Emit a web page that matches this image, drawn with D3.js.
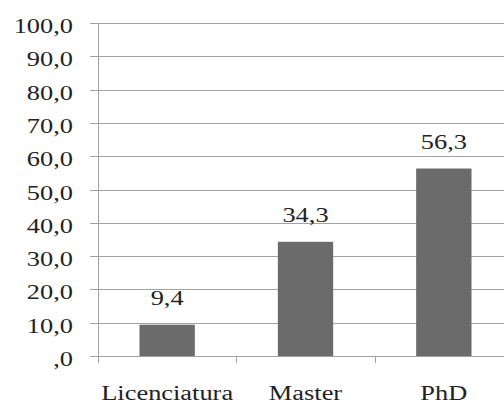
<!DOCTYPE html>
<html>
<head>
<meta charset="utf-8">
<script src="https://cdn.jsdelivr.net/npm/d3@7"></script>
<style>
  html, body { margin: 0; padding: 0; background: #fff; }
  svg { display: block; }
  text { font-family: "Liberation Serif", "Times New Roman", serif; fill: #222; }
</style>
</head>
<body>
<svg id="chart" width="504" height="405"></svg>
<script>
// Share of respondents by degree level (%)
const categories = ["Licenciatura", "Master", "PhD"];
const values = [9.4, 34.3, 56.3];
const yTicks = [0, 10, 20, 30, 40, 50, 60, 70, 80, 90, 100];

const svg = d3.select("#chart");
const W = 504, H = 405;
const plotLeft = 98, plotRight = 513, plotTop = 23, plotBottom = 356;
const stretch = 1.32;   // wide-set lettering
const fmt = v => {
  const s = v.toFixed(1).replace(".", ",");
  return s.startsWith("0,") ? s.slice(1) : s;
};

const x = d3.scaleBand().domain(categories).range([plotLeft, plotRight])
  .paddingInner(0.6).paddingOuter(0.3);
const y = d3.scaleLinear().domain([0, 100]).range([plotBottom, plotTop]);

// horizontal gridlines with short ticks left of the axis
svg.append("g").selectAll("line").data(yTicks).join("line")
  .attr("x1", plotLeft - 8).attr("x2", W)
  .attr("y1", d => Math.round(y(d)) + 0.5).attr("y2", d => Math.round(y(d)) + 0.5)
  .attr("stroke", "#a3a3a3").attr("stroke-width", 1);

// vertical axis line
svg.append("line")
  .attr("x1", plotLeft + 0.5).attr("x2", plotLeft + 0.5)
  .attr("y1", plotTop).attr("y2", plotBottom + 7)
  .attr("stroke", "#a3a3a3");

// category separators below the baseline
const seps = categories.slice(1).map(c => x(c) - x.step() * x.paddingInner() / 2);
svg.append("g").selectAll("line").data(seps).join("line")
  .attr("x1", d => Math.round(d) + 0.5).attr("x2", d => Math.round(d) + 0.5)
  .attr("y1", plotBottom).attr("y2", plotBottom + 7)
  .attr("stroke", "#a3a3a3");

// y tick labels
svg.append("g").selectAll("text").data(yTicks).join("text")
  .attr("transform", d => `translate(73,${y(d) + 10}) scale(${stretch},1)`)
  .attr("text-anchor", "end")
  .attr("font-size", 20)
  .text(d => fmt(d));

// bars
svg.append("g").selectAll("rect").data(values).join("rect")
  .attr("x", (d, i) => x(categories[i]))
  .attr("width", x.bandwidth())
  .attr("y", d => y(d))
  .attr("height", d => y(0) - y(d))
  .attr("fill", "#6b6b6b");

// value labels
svg.append("g").selectAll("text").data(values).join("text")
  .attr("transform", (d, i) =>
    `translate(${x(categories[i]) + x.bandwidth() / 2},${y(d) - 19.5}) scale(${stretch},1)`)
  .attr("text-anchor", "middle")
  .attr("font-size", 20)
  .text(d => fmt(d));

// category labels
svg.append("g").selectAll("text").data(categories).join("text")
  .attr("transform", d => `translate(${x(d) + x.bandwidth() / 2},400) scale(${stretch},1)`)
  .attr("text-anchor", "middle")
  .attr("font-size", 20)
  .text(d => d);
</script>
</body>
</html>
